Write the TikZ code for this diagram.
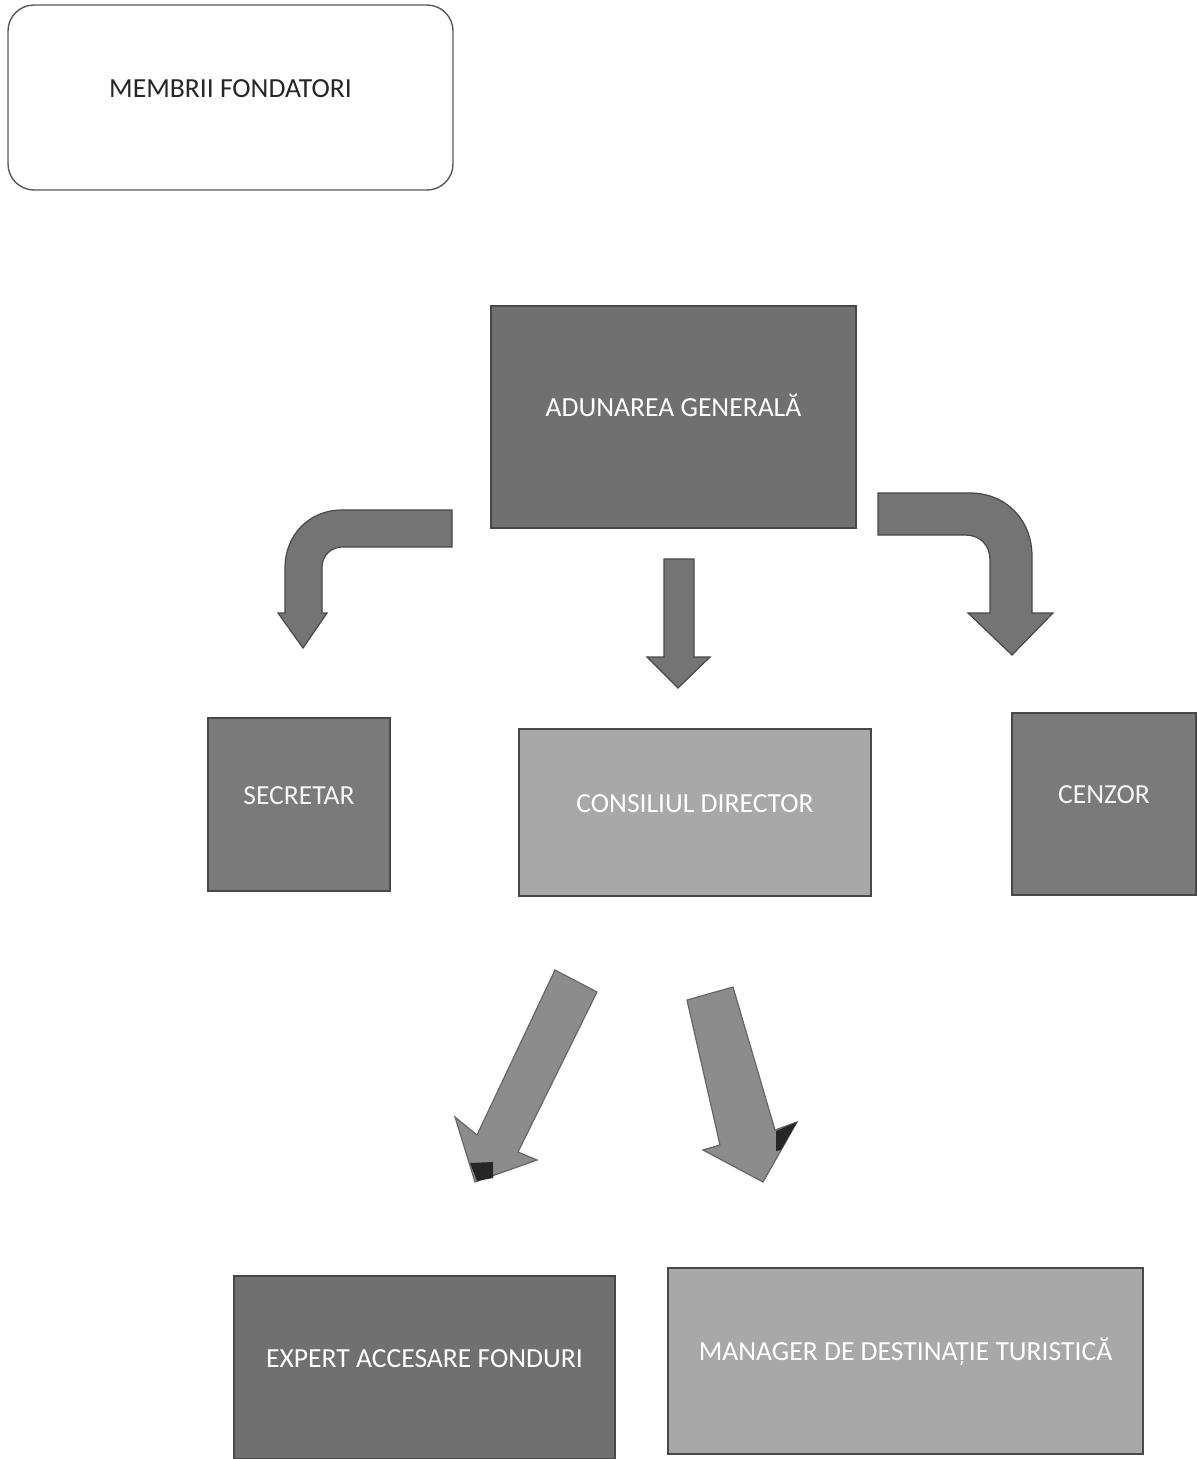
\documentclass[tikz,border=0pt]{standalone}
\usepackage{fontspec}
\setmainfont{Carlito}
\definecolor{darkbox}{RGB}{112,112,112}
\definecolor{midbox}{RGB}{122,122,122}
\definecolor{lightbox}{RGB}{168,168,168}
\definecolor{arrowtop}{RGB}{116,116,116}
\definecolor{arrowlow}{RGB}{140,140,140}
\definecolor{edge}{RGB}{72,72,72}
\begin{document}
\begin{tikzpicture}[x=1pt,y=-1pt,
  box/.style={rectangle,draw=edge,line width=1.6pt,inner sep=0pt,
    text height=17pt,text depth=18pt,font=\fontsize{27.6}{30}\selectfont},
  darkbx/.style={box,fill=darkbox,text=white},
  midbx/.style={box,fill=midbox,text=white!92!gray},
  lightbx/.style={box,fill=lightbox,text=white},
  roundbx/.style={box,rounded corners=26pt,draw=black!65,line width=1.4pt,fill=white,text=black!85},
  blockarrow/.style={fill=arrowtop,draw=edge,line width=1.2pt,line join=miter},
  blockarrowlow/.style={fill=arrowlow,draw=black!60,line width=1.2pt,line join=miter},
  patch/.style={fill=black!85,draw=none}]
\useasboundingbox (0,0) rectangle (1197,1459);

\node[roundbx,minimum width=445pt,minimum height=185pt] (mf) at (230.5,97.5) {MEMBRII FONDATORI};
\node[darkbx,minimum width=365pt,minimum height=222pt] (ag) at (673.5,417) {ADUNAREA GENERALĂ};
\node[midbx,minimum width=182pt,minimum height=173pt] (sec) at (299,804.5) {SECRETAR};
\node[lightbx,minimum width=352pt,minimum height=167pt] (cd) at (695,812.5) {CONSILIUL DIRECTOR};
\node[midbx,minimum width=184pt,minimum height=182pt] (cz) at (1104,804) {CENZOR};
\node[darkbx,minimum width=381pt,minimum height=183pt] (ex) at (424.5,1367.5) {EXPERT ACCESARE FONDURI};
\node[lightbx,minimum width=475pt,minimum height=186pt] (mg) at (905.5,1361) {MANAGER DE DESTINAȚIE TURISTICĂ};

% curved arrow to SECRETAR
\draw[blockarrow] (452,510) -- (342,510) .. controls (309,510) and (285,535) .. (285,568)
  -- (285,613) -- (278,613) -- (303,648) -- (327,613) -- (322,613) -- (322,567)
  .. controls (322,556) and (331,547) .. (342,547) -- (452,547) -- cycle;
% straight arrow to CONSILIUL DIRECTOR
\draw[blockarrow] (664,559) -- (694,559) -- (694,657) -- (710,657) -- (678,688)
  -- (647,657) -- (664,657) -- cycle;
% curved arrow to CENZOR
\draw[blockarrow] (878,493) -- (970,493) .. controls (1006,493) and (1032,520) .. (1032,556)
  -- (1032,613) -- (1053,613) -- (1012,655) -- (968,613) -- (990,613) -- (990,560)
  .. controls (990,545) and (980,535) .. (965,535) -- (878,535) -- cycle;
% diagonal arrows
\draw[blockarrowlow] (555,970) -- (597,992) -- (518,1152) -- (537,1160) -- (475,1182)
  -- (455,1117) -- (477,1135) -- cycle;
\fill[patch] (470,1163) -- (493,1162) -- (493,1178) -- (477,1181) -- cycle;
\draw[blockarrowlow] (687,1000) -- (733,987) -- (775,1130) -- (797,1122) -- (763,1182)
  -- (703,1150) -- (720,1145) -- cycle;
\fill[patch] (776,1131) -- (797,1122) -- (781,1150) -- (776,1151) -- cycle;
\end{tikzpicture}
\end{document}
